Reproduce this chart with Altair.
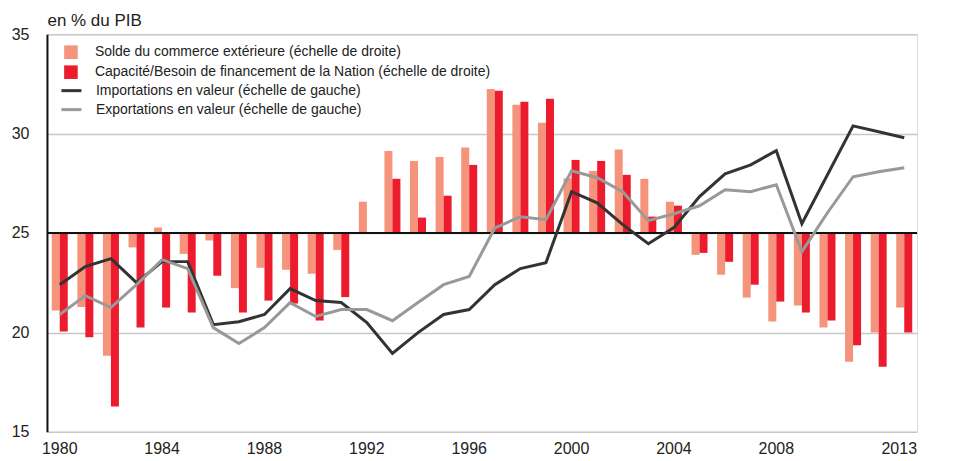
import altair as alt
import pandas as pd

years = list(range(1980, 2014))

solde = [-1.56, -1.49, -2.47, -0.29, 0.11, -0.42, -0.15, -1.11, -0.70, -0.74,
         -0.82, -0.34, 0.63, 1.65, 1.45, 1.53, 1.72, 2.90, 2.58, 2.22,
         1.10, 1.25, 1.68, 1.09, 0.63, -0.44, -0.84, -1.30, -1.78, -1.46,
         -1.90, -2.59, -2.00, -1.50]
capacite = [-1.98, -2.10, -3.49, -1.90, -1.50, -1.60, -0.86, -1.60, -1.36, -1.42,
            -1.76, -1.29, -0.02, 1.09, 0.31, 0.75, 1.37, 2.86, 2.64, 2.70,
            1.47, 1.45, 1.17, 0.33, 0.55, -0.40, -0.58, -1.04, -1.38, -1.60,
            -1.76, -2.26, -2.69, -2.00]
importations = [22.40, 23.31, 23.71, 22.50, 23.56, 23.56, 20.39, 20.54, 20.90, 22.20,
                21.60, 21.50, 20.49, 18.94, 19.99, 20.90, 21.15, 22.40, 23.21, 23.51,
                27.08, 26.52, 25.42, 24.46, 25.27, 26.83, 27.98, 28.43, 29.14, 25.47,
                27.93, 30.39, 30.09, 29.79]
exportations = [20.90, 21.85, 21.25, 22.40, 23.66, 23.21, 20.24, 19.44, 20.24, 21.50,
                20.80, 21.15, 21.15, 20.59, 21.50, 22.40, 22.81, 25.25, 25.82, 25.67,
                28.13, 27.78, 27.08, 25.62, 25.97, 26.37, 27.18, 27.08, 27.43, 24.06,
                26.02, 27.83, 28.08, 28.28]

tick_years = [1980, 1984, 1988, 1992, 1996, 2000, 2004, 2008, 2013]

S1 = "Solde du commerce extérieure (échelle de droite)"
S2 = "Capacité/Besoin de financement de la Nation (échelle de droite)"
L1 = "Importations en valeur (échelle de gauche)"
L2 = "Exportations en valeur (échelle de gauche)"

bars_df = pd.DataFrame({
    "year": years * 2,
    "serie": [S1] * len(years) + [S2] * len(years),
    "value": solde + capacite,
})
lines_df = pd.DataFrame({
    "year": years * 2,
    "serie": [L1] * len(years) + [L2] * len(years),
    "value": importations + exportations,
})
zero_df = pd.DataFrame({"zero": [0]})

FONT = "'Liberation Sans Narrow', 'Arial Narrow', 'Liberation Sans', Arial, sans-serif"
RED = "#EC1C2E"
PINK = "#F5937B"
TXT = "#222222"

x_enc = alt.X(
    "year:O",
    scale=alt.Scale(paddingInner=0.375, paddingOuter=0.1875),
    axis=alt.Axis(
        title=None, values=tick_years, labelAngle=0, ticks=False, domain=False,
        grid=False, labelFontSize=16, labelColor=TXT, labelPadding=9,
        labelFont=FONT,
        labelOffset={"condition": {"test": "datum.value === 2013", "value": -5}, "value": 0},
    ),
)

bars = alt.Chart(bars_df).mark_bar().encode(
    x=x_enc,
    xOffset=alt.XOffset("serie:N", sort=[S1, S2]),
    y=alt.Y(
        "value:Q",
        scale=alt.Scale(domain=[-4, 4]),
        axis=alt.Axis(
            orient="right", values=[-4, -2, 0, 2, 4], grid=False, ticks=False,
            domainColor=RED, domainWidth=1.5, labelColor=RED, labelFontSize=16,
            labelFont=FONT, labelAlign="right", labelPadding=39,
            labelExpr="datum.value < 0 ? '– ' + abs(datum.value) : datum.value",
            title="en % du PIB", titleAngle=0, titleAlign="right", titleX=2,
            titleY=-9, titleBaseline="alphabetic", titleColor=RED,
            titleFontSize=17, titleFontWeight="normal", titleFont=FONT,
        ),
    ),
    fill=alt.Fill(
        "serie:N",
        scale=alt.Scale(domain=[S1, S2], range=[PINK, RED]),
        legend=alt.Legend(
            orient="none", legendX=17, legendY=11, title=None, symbolType="square",
            symbolSize=185, symbolStrokeWidth=0, labelFontSize=14, labelFont=FONT,
            labelColor=TXT, labelOffset=17, rowPadding=6, padding=0,
            labelLimit=500,
        ),
    ),
)

zero = alt.Chart(zero_df).mark_rule(color="#111111", strokeWidth=2).encode(
    y=alt.Y("zero:Q", axis=None)
)

lines = alt.Chart(lines_df).mark_line(strokeWidth=3).encode(
    x=x_enc,
    y=alt.Y(
        "value:Q",
        scale=alt.Scale(domain=[15, 35]),
        axis=alt.Axis(
            orient="left", values=[15, 20, 25, 30, 35], grid=True,
            gridColor="#C8C8C8", gridWidth=1.5, ticks=False,
            domainColor="#111111", domainWidth=2, labelColor=TXT,
            labelFontSize=16, labelFont=FONT, labelPadding=18,
            title="en % du PIB", titleAngle=0, titleAlign="left", titleX=0,
            titleY=-9, titleBaseline="alphabetic", titleColor=TXT,
            titleFontSize=17, titleFontWeight="normal", titleFont=FONT,
        ),
    ),
    stroke=alt.Stroke(
        "serie:N",
        scale=alt.Scale(domain=[L1, L2], range=["#333333", "#999999"]),
        legend=alt.Legend(
            orient="none", legendX=13, legendY=45, title=None, symbolType="stroke",
            symbolSize=400, symbolStrokeWidth=3, labelFontSize=14, labelFont=FONT,
            labelColor=TXT, labelOffset=13, rowPadding=0, padding=0,
            labelLimit=500,
        ),
    ),
)

chart = alt.layer(
    alt.layer(bars, zero),
    lines,
).resolve_scale(
    y="independent", fill="independent", stroke="independent"
).properties(
    width=871, height=398,
    padding={"left": 39, "top": 26, "right": 40, "bottom": 27},
    autosize=alt.AutoSizeParams(type="none"),
).configure_view(stroke=None).configure(font=FONT)

chart.save("out.html", embed_options={"renderer": "svg", "actions": False})
